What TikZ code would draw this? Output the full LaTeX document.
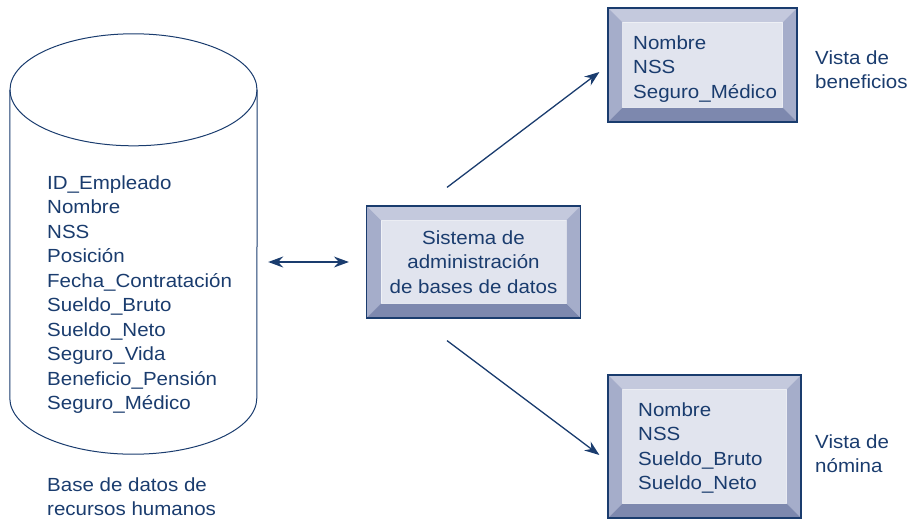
\documentclass[tikz,border=0pt]{standalone}
\usepackage{fontspec}
\setmainfont{Liberation Sans}[FakeStretch=1.08]
\usepackage{xcolor}
\usepackage{tikz}
\usetikzlibrary{positioning, arrows.meta}
\definecolor{navy}{HTML}{1A3C6E}
\definecolor{bevtop}{HTML}{C4C9DD}
\definecolor{bevside}{HTML}{A5ADCA}
\definecolor{bevbottom}{HTML}{7D88AE}
\definecolor{bevface}{HTML}{E1E4EE}

\begin{document}
\begin{tikzpicture}[
            x = 1pt, y = -1pt,
            every node/.style = {
                text = navy,
                inner sep = 0pt,
                align = left,
                font = \fontsize{19pt}{24.5pt}\selectfont
            },
            bevelbox/.style = {
                draw = navy,
                line width = 1.2pt,
                fill = bevface,
                align = center,
                path picture = {
                    \path (path picture bounding box.north west) coordinate (nw)
                          (path picture bounding box.north east) coordinate (ne)
                          (path picture bounding box.south east) coordinate (se)
                          (path picture bounding box.south west) coordinate (sw);
                    \fill[bevtop] (nw) -- (ne) -- ([xshift=-14.5pt, yshift=-14.5pt]ne)
                        -- ([xshift=14.5pt, yshift=-14.5pt]nw) -- cycle;
                    \fill[bevside] (ne) -- (se) -- ([xshift=-14.5pt, yshift=14.5pt]se)
                        -- ([xshift=-14.5pt, yshift=-14.5pt]ne) -- cycle;
                    \fill[bevside] (nw) -- (sw) -- ([xshift=14.5pt, yshift=14.5pt]sw)
                        -- ([xshift=14.5pt, yshift=-14.5pt]nw) -- cycle;
                    \fill[bevbottom] (sw) -- (se) -- ([xshift=-14.5pt, yshift=14.5pt]se)
                        -- ([xshift=14.5pt, yshift=14.5pt]sw) -- cycle;
                    \draw[white, opacity = 0.6, line width = 0.6pt]
                        ([xshift=14.5pt, yshift=-14.5pt]nw) rectangle ([xshift=-14.5pt, yshift=14.5pt]se);
                }
            },
            db/.style = {
                draw = navy,
                line width = 1pt
            },
            flow/.style = {
                draw = navy,
                line width = 1.3pt,
                -{Stealth[length = 15pt, width = 11pt, inset = 5pt]}
            },
            link/.style = {
                draw = navy,
                line width = 1.3pt,
                {Stealth[length = 15pt, width = 11pt, inset = 5pt]}-{Stealth[length = 15pt, width = 11pt, inset = 5pt]}
            }
        ]
            \useasboundingbox (0, 0) rectangle (907, 519);

            \node[minimum width = 247pt, minimum height = 420pt] (rrhh) at (133.5, 244) {};
            \draw[db] ([yshift=-56pt]rrhh.north) ellipse [x radius = 123.5pt, y radius = 56pt];
            \draw[db] ([yshift=-56pt]rrhh.north west) -- ([yshift=56pt]rrhh.south west)
                arc [start angle = 180, end angle = 360, x radius = 123.5pt, y radius = 56pt]
                -- ([yshift=-56pt]rrhh.north east);

            \node[anchor = north west] (rrhh-campos) at (47, 175.5) {
                ID\_Empleado\\
                Nombre\\
                NSS\\
                Posición\\
                Fecha\_Contratación\\
                Sueldo\_Bruto\\
                Sueldo\_Neto\\
                Seguro\_Vida\\
                Beneficio\_Pensión\\
                Seguro\_Médico
            };
            \node[anchor = north west] (rrhh-titulo) at (47, 477.5) {
                Base de datos de\\
                recursos humanos
            };

            \node[bevelbox, minimum width = 214pt, minimum height = 112pt] (sgbd) at (473.5, 262) {
                Sistema de\\
                administración\\
                de bases de datos
            };

            \node[bevelbox, minimum width = 189pt, minimum height = 114pt] (benef) at (702.5, 65) {};
            \node[anchor = north west] (benef-campos) at (633, 35.5) {
                Nombre\\
                NSS\\
                Seguro\_Médico
            };
            \node[anchor = north west] (benef-vista) at (815, 50.5) {
                Vista de\\
                beneficios
            };

            \node[bevelbox, minimum width = 193pt, minimum height = 143pt] (nomina) at (704.5, 446.5) {};
            \node[anchor = north west] (nomina-campos) at (638, 402.5) {
                Nombre\\
                NSS\\
                Sueldo\_Bruto\\
                Sueldo\_Neto
            };
            \node[anchor = north west] (nomina-vista) at (815, 434.5) {
                Vista de\\
                nómina
            };

            \draw[link, shorten <= 11pt, shorten >= 17pt] (rrhh.east |- sgbd.west) -- (sgbd.west);
            \draw[flow] ([xshift=-26.5pt, yshift=18pt]sgbd.north) -- ([xshift=-8pt, yshift=-7pt]benef.west);
            \draw[flow] ([xshift=-26.5pt, yshift=-22pt]sgbd.south) -- ([xshift=-8pt, yshift=-8.5pt]nomina.west);
        \end{tikzpicture}
\end{document}
